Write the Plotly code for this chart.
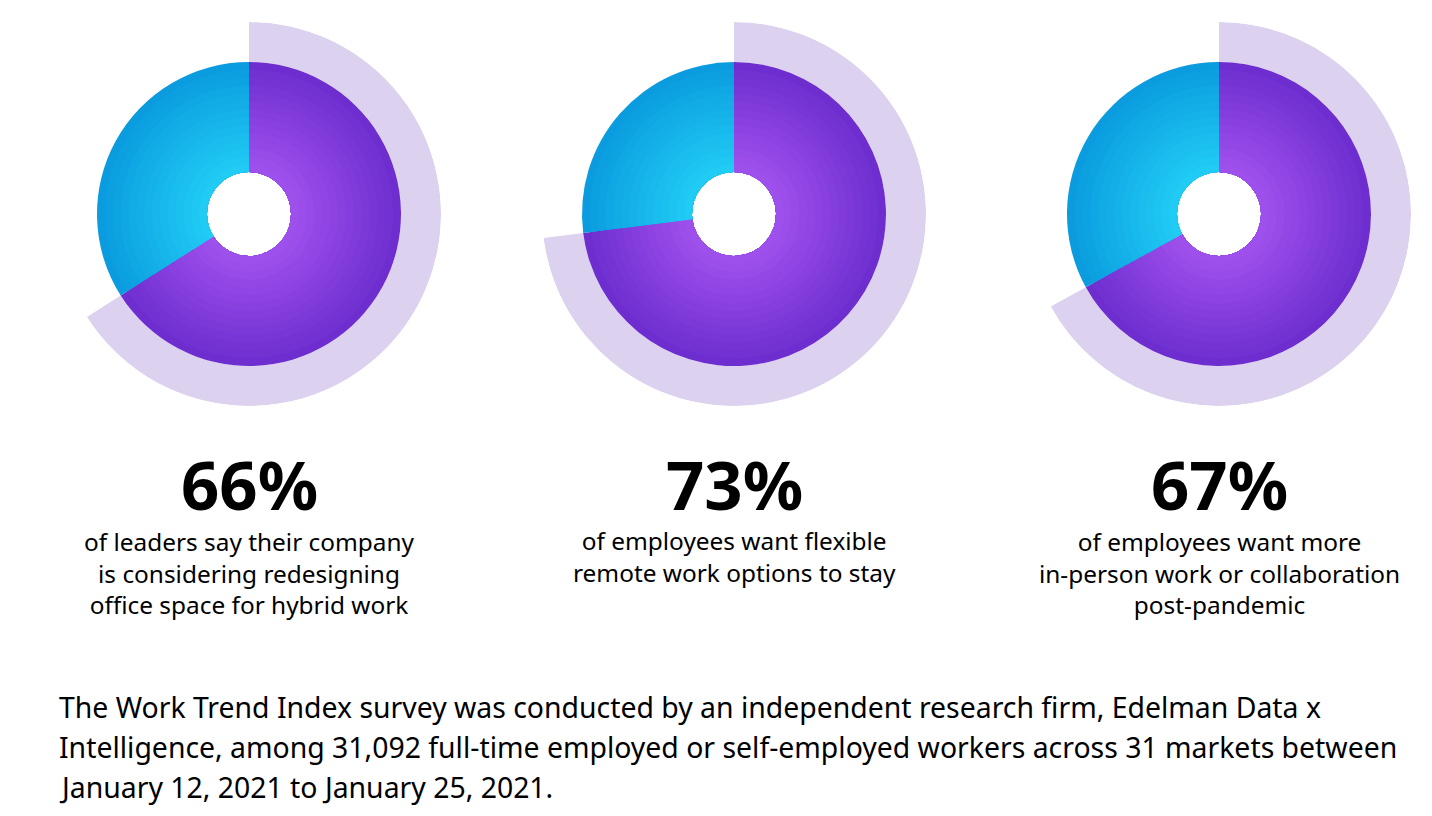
import plotly.graph_objects as go

# page has an 8px body margin, so the figure is sized to fit the window after it
OFF = 8
W, H = 1432 - OFF, 816 - OFF

# ---- data ----
percents = [66, 73, 67]
value_labels = ["66%", "73%", "67%"]
descriptions = [
    ["of leaders say their company", "is considering redesigning", "office space for hybrid work"],
    ["of employees want flexible", "remote work options to stay"],
    ["of employees want more", "in-person work or collaboration", "post-pandemic"],
]
footnote_lines = [
    "The Work Trend Index survey was conducted by an independent research firm, Edelman Data x",
    "Intelligence, among 31,092 full-time employed or self-employed workers across 31 markets between",
    "January 12, 2021 to January 25, 2021.",
]

# ---- layout constants (page pixel coordinates) ----
centers_x = [249, 734, 1219]
center_y = 214
R_OUT, R_RING, R_HOLE = 192, 152, 42
FONT = "Noto Sans"
DESC_SIZE = 24.4
DESC_LINE = DESC_SIZE * 1.3

def px(x):
    return (x - OFF) / W

def py(y):
    return 1 - (y - OFF) / H

def lerp_color(c1, c2, t):
    a = [int(c1[i:i + 2], 16) for i in (1, 3, 5)]
    b = [int(c2[i:i + 2], 16) for i in (1, 3, 5)]
    return "rgb(%d,%d,%d)" % tuple(round(a[k] + (b[k] - a[k]) * t) for k in range(3))

N_BANDS = 14
purple_in, purple_out = "#A253EF", "#6E2ECF"
blue_in, blue_out = "#22CFF6", "#0A9CDF"

fig = go.Figure()
layout_polars = {}

for i, p in enumerate(percents):
    name = "polar" if i == 0 else "polar%d" % (i + 1)
    cx = centers_x[i]
    layout_polars[name] = dict(
        domain=dict(x=[px(cx - R_OUT), px(cx + R_OUT)],
                    y=[py(center_y + R_OUT), py(center_y - R_OUT)]),
        radialaxis=dict(range=[0, R_OUT], visible=False),
        angularaxis=dict(visible=False, rotation=90, direction="clockwise"),
        bgcolor="rgba(0,0,0,0)",
        barmode="overlay",
        hole=0,
    )
    span_p = p * 3.6
    span_b = (100 - p) * 3.6
    # outer lavender arc
    fig.add_trace(go.Barpolar(
        theta=[span_p / 2], width=[span_p], r=[R_OUT - R_RING], base=[R_RING],
        marker=dict(color="#DCD2F0", line=dict(width=0)), subplot=name,
        hoverinfo="skip", showlegend=False))
    # gradient bands, drawn from outermost (darkest) to innermost (lightest)
    for k in range(N_BANDS):
        t = 1 - k / N_BANDS
        r_top = R_HOLE + (R_RING - R_HOLE) * t
        fig.add_trace(go.Barpolar(
            theta=[span_p / 2], width=[span_p], r=[r_top - R_HOLE], base=[R_HOLE],
            marker=dict(color=lerp_color(purple_in, purple_out, t), line=dict(width=0)),
            subplot=name, hoverinfo="skip", showlegend=False))
        fig.add_trace(go.Barpolar(
            theta=[span_p + span_b / 2], width=[span_b], r=[r_top - R_HOLE], base=[R_HOLE],
            marker=dict(color=lerp_color(blue_in, blue_out, t), line=dict(width=0)),
            subplot=name, hoverinfo="skip", showlegend=False))

annotations = []
for i, lab in enumerate(value_labels):
    cx = centers_x[i]
    annotations.append(dict(
        x=px(cx), y=py(484), xref="paper", yref="paper", text="<b>%s</b>" % lab,
        showarrow=False, xanchor="center", yanchor="middle",
        font=dict(family=FONT, size=67, color="#000000")))
    n = len(descriptions[i])
    annotations.append(dict(
        x=px(cx), y=py(541 + DESC_LINE * (n - 1) / 2), xref="paper", yref="paper",
        text="<br>".join(descriptions[i]),
        showarrow=False, xanchor="center", yanchor="middle", align="center",
        font=dict(family=FONT, size=DESC_SIZE, color="#000000")))

for j, line in enumerate(footnote_lines):
    annotations.append(dict(
        x=px(57), y=py(707 + 40 * j), xref="paper", yref="paper", text=line,
        showarrow=False, xanchor="left", yanchor="middle",
        font=dict(family=FONT, size=28.4, color="#000000")))

fig.update_layout(
    width=W, height=H,
    margin=dict(l=0, r=0, t=0, b=0),
    paper_bgcolor="white", plot_bgcolor="white",
    showlegend=False,
    annotations=annotations,
    **layout_polars,
)

fig.write_html("out.html")
